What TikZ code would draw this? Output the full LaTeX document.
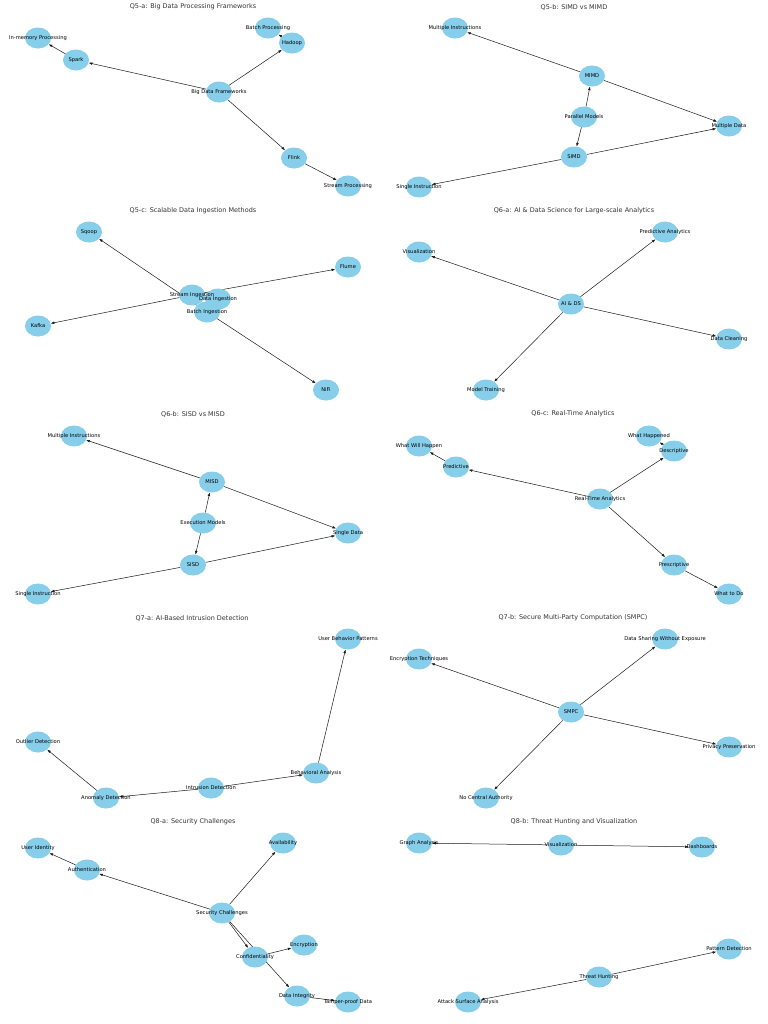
\documentclass[tikz,border=0pt]{standalone}
\usepackage{fontspec}
\setmainfont{DejaVu Sans}
\usetikzlibrary{shapes.geometric,arrows.meta}
\pgfdeclarelayer{bgw}
\pgfdeclarelayer{edgel}
\pgfdeclarelayer{fg}
\pgfsetlayers{bgw,edgel,main,fg}
\definecolor{sky}{RGB}{135,206,235}
\tikzset{
 nd/.style={ellipse,fill=sky,minimum width=26bp,minimum height=21bp,inner sep=0pt,outer sep=0pt},
 lb/.style={font=\fontsize{5.2}{6}\selectfont,inner sep=0pt,text=black},
 ttl/.style={font=\fontsize{6.5}{7.5}\selectfont,text=black!80,inner sep=0pt},
 ar/.style={-{Latex[length=3.8bp,width=2.6bp]},line width=0.5bp,draw=black!90}
}
\newcommand\gn[3]{\node[nd] (#1) at (#2) {};\begin{pgfonlayer}{fg}\node[lb] (#1-t) at (#2) {#3};\end{pgfonlayer}}
\newcommand\ed[2]{\begin{pgfonlayer}{edgel}\draw[ar] (#1) -- (#2);\end{pgfonlayer}}
\begin{document}
\begin{tikzpicture}[x=1bp,y=-1bp]
\begin{pgfonlayer}{bgw}
\fill[white] (0,0) rectangle (768,1024);
\end{pgfonlayer}
\useasboundingbox (0,0) rectangle (768,1024);
% ---------- Q5-a
\node[ttl] (t1) at (193,7) {Q5-a: Big Data Processing Frameworks};
\gn{a1}{38,38}{In-memory Processing}
\gn{a2}{76,60}{Spark}
\gn{a3}{219,92}{Big Data Frameworks}
\gn{a4}{268,28}{Batch Processing}
\gn{a5}{292,43}{Hadoop}
\gn{a6}{294,158}{Flink}
\gn{a7}{348,186}{Stream Processing}
\ed{a3}{a2}\ed{a2}{a1}\ed{a3}{a5}\ed{a5}{a4}\ed{a3}{a6}\ed{a6}{a7}
% ---------- Q5-b
\node[ttl] (t2) at (574,7) {Q5-b: SIMD vs MIMD};
\gn{b1}{455,28}{Multiple Instructions}
\gn{b2}{592,76}{MIMD}
\gn{b3}{584,117}{Parallel Models}
\gn{b4}{729,126}{Multiple Data}
\gn{b5}{574,157}{SIMD}
\gn{b6}{419,187}{Single Instruction}
\ed{b3}{b2}\ed{b3}{b5}\ed{b2}{b1}\ed{b2}{b4}\ed{b5}{b4}\ed{b5}{b6}
% ---------- Q5-c
\node[ttl] (t3) at (193,211) {Q5-c: Scalable Data Ingestion Methods};
\gn{c1}{89,232}{Sqoop}
\gn{c2}{348,267}{Flume}
\gn{c3}{192,295}{Stream Ingestion}
\gn{c4}{218,299}{Data Ingestion}
\gn{c5}{207,312}{Batch Ingestion}
\gn{c6}{38,326}{Kafka}
\gn{c7}{326,390}{NiFi}
\ed{c4}{c3}\ed{c4}{c5}\ed{c5}{c1}\ed{c5}{c7}\ed{c3}{c6}\ed{c3}{c2}
% ---------- Q6-a
\node[ttl] (t4) at (574,211) {Q6-a: AI \& Data Science for Large-scale Analytics};
\gn{d1}{665,232}{Predictive Analytics}
\gn{d2}{419,252}{Visualization}
\gn{d3}{571,304}{AI \& DS}
\gn{d4}{729,339}{Data Cleaning}
\gn{d5}{486,390}{Model Training}
\ed{d3}{d1}\ed{d3}{d2}\ed{d3}{d4}\ed{d3}{d5}
% ---------- Q6-b
\node[ttl] (t5) at (193,414) {Q6-b: SISD vs MISD};
\gn{e1}{74,436}{Multiple Instructions}
\gn{e2}{212,482}{MISD}
\gn{e3}{203,523}{Execution Models}
\gn{e4}{348,533}{Single Data}
\gn{e5}{193,565}{SISD}
\gn{e6}{38,594}{Single Instruction}
\ed{e3}{e2}\ed{e3}{e5}\ed{e2}{e1}\ed{e2}{e4}\ed{e5}{e4}\ed{e5}{e6}
% ---------- Q6-c
\node[ttl] (t6) at (573,414) {Q6-c: Real-Time Analytics};
\gn{f1}{649,436}{What Happened}
\gn{f2}{674,451}{Descriptive}
\gn{f3}{419,446}{What Will Happen}
\gn{f4}{456,467}{Predictive}
\gn{f5}{600,499}{Real-Time Analytics}
\gn{f6}{674,565}{Prescriptive}
\gn{f7}{729,594}{What to Do}
\ed{f5}{f4}\ed{f4}{f3}\ed{f5}{f2}\ed{f2}{f1}\ed{f5}{f6}\ed{f6}{f7}
% ---------- Q7-a
\node[ttl] (t7) at (192,618) {Q7-a: AI-Based Intrusion Detection};
\gn{g1}{348,639}{User Behavior Patterns}
\gn{g2}{38,742}{Outlier Detection}
\gn{g3}{316,773}{Behavioral Analysis}
\gn{g4}{211,788}{Intrusion Detection}
\gn{g5}{106,798}{Anomaly Detection}
\ed{g4}{g3}\ed{g4}{g5}\ed{g3}{g1}\ed{g5}{g2}
% ---------- Q7-b
\node[ttl] (t8) at (573,618) {Q7-b: Secure Multi-Party Computation (SMPC)};
\gn{h1}{665,639}{Data Sharing Without Exposure}
\gn{h2}{419,659}{Encryption Techniques}
\gn{h3}{571,712}{SMPC}
\gn{h4}{729,747}{Privacy Preservation}
\gn{h5}{486,798}{No Central Authority}
\ed{h3}{h1}\ed{h3}{h2}\ed{h3}{h4}\ed{h3}{h5}
% ---------- Q8-a
\node[ttl] (t9) at (193,822) {Q8-a: Security Challenges};
\gn{i1}{38,848}{User Identity}
\gn{i2}{283,843}{Availability}
\gn{i3}{87,870}{Authentication}
\gn{i4}{222,913}{Security Challenges}
\gn{i5}{304,945}{Encryption}
\gn{i6}{255,957}{Confidentiality}
\gn{i7}{297,996}{Data Integrity}
\gn{i8}{348,1002}{Tamper-proof Data}
\ed{i4}{i3}\ed{i3}{i1}\ed{i4}{i2}\ed{i4}{i6}\ed{i4}{i7}\ed{i6}{i5}\ed{i7}{i8}
% ---------- Q8-b
\node[ttl] (t10) at (574,822) {Q8-b: Threat Hunting and Visualization};
\gn{j1}{419,843}{Graph Analysis}
\gn{j2}{561,845}{Visualization}
\gn{j3}{702,847}{Dashboards}
\gn{j4}{729,949}{Pattern Detection}
\gn{j5}{599,977}{Threat Hunting}
\gn{j6}{468,1002}{Attack Surface Analysis}
\ed{j2}{j1}\ed{j2}{j3}\ed{j5}{j4}\ed{j5}{j6}
\end{tikzpicture}
\end{document}
